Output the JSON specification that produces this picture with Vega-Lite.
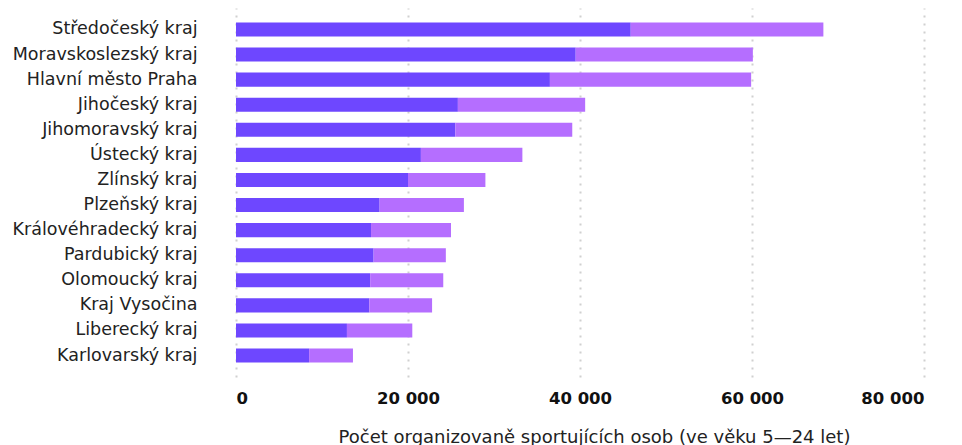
{
  "$schema": "https://vega.github.io/schema/vega-lite/v6.json",
  "width": 688,
  "height": 369,
  "autosize": "none",
  "padding": {"left": 236, "top": 8, "right": 38, "bottom": 68},
  "config": {
    "view": {"stroke": null},
    "font": "DejaVu Sans"
  },
  "data": {
    "values": [
      {"kraj": "Středočeský kraj", "skupina": "A", "poradi": 1, "osoby": 45900},
      {"kraj": "Středočeský kraj", "skupina": "B", "poradi": 2, "osoby": 22400},
      {"kraj": "Moravskoslezský kraj", "skupina": "A", "poradi": 1, "osoby": 39500},
      {"kraj": "Moravskoslezský kraj", "skupina": "B", "poradi": 2, "osoby": 20600},
      {"kraj": "Hlavní město Praha", "skupina": "A", "poradi": 1, "osoby": 36500},
      {"kraj": "Hlavní město Praha", "skupina": "B", "poradi": 2, "osoby": 23400},
      {"kraj": "Jihočeský kraj", "skupina": "A", "poradi": 1, "osoby": 25800},
      {"kraj": "Jihočeský kraj", "skupina": "B", "poradi": 2, "osoby": 14800},
      {"kraj": "Jihomoravský kraj", "skupina": "A", "poradi": 1, "osoby": 25500},
      {"kraj": "Jihomoravský kraj", "skupina": "B", "poradi": 2, "osoby": 13600},
      {"kraj": "Ústecký kraj", "skupina": "A", "poradi": 1, "osoby": 21500},
      {"kraj": "Ústecký kraj", "skupina": "B", "poradi": 2, "osoby": 11800},
      {"kraj": "Zlínský kraj", "skupina": "A", "poradi": 1, "osoby": 20000},
      {"kraj": "Zlínský kraj", "skupina": "B", "poradi": 2, "osoby": 9000},
      {"kraj": "Plzeňský kraj", "skupina": "A", "poradi": 1, "osoby": 16700},
      {"kraj": "Plzeňský kraj", "skupina": "B", "poradi": 2, "osoby": 9800},
      {"kraj": "Královéhradecký kraj", "skupina": "A", "poradi": 1, "osoby": 15700},
      {"kraj": "Královéhradecký kraj", "skupina": "B", "poradi": 2, "osoby": 9300},
      {"kraj": "Pardubický kraj", "skupina": "A", "poradi": 1, "osoby": 16000},
      {"kraj": "Pardubický kraj", "skupina": "B", "poradi": 2, "osoby": 8400},
      {"kraj": "Olomoucký kraj", "skupina": "A", "poradi": 1, "osoby": 15600},
      {"kraj": "Olomoucký kraj", "skupina": "B", "poradi": 2, "osoby": 8500},
      {"kraj": "Kraj Vysočina", "skupina": "A", "poradi": 1, "osoby": 15500},
      {"kraj": "Kraj Vysočina", "skupina": "B", "poradi": 2, "osoby": 7300},
      {"kraj": "Liberecký kraj", "skupina": "A", "poradi": 1, "osoby": 12900},
      {"kraj": "Liberecký kraj", "skupina": "B", "poradi": 2, "osoby": 7600},
      {"kraj": "Karlovarský kraj", "skupina": "A", "poradi": 1, "osoby": 8500},
      {"kraj": "Karlovarský kraj", "skupina": "B", "poradi": 2, "osoby": 5100}
    ]
  },
  "mark": {"type": "bar"},
  "encoding": {
    "y": {
      "field": "kraj",
      "type": "nominal",
      "sort": ["Středočeský kraj", "Moravskoslezský kraj", "Hlavní město Praha", "Jihočeský kraj", "Jihomoravský kraj", "Ústecký kraj", "Zlínský kraj", "Plzeňský kraj", "Královéhradecký kraj", "Pardubický kraj", "Olomoucký kraj", "Kraj Vysočina", "Liberecký kraj", "Karlovarský kraj"],
      "scale": {"paddingInner": 0.44, "paddingOuter": 0.575},
      "axis": {
        "title": null,
        "ticks": false,
        "domain": false,
        "labelPadding": 39,
        "labelLimit": 300,
        "labelFontSize": 17.5,
        "labelColor": "#222222",
        "labelFont": "DejaVu Sans"
      }
    },
    "x": {
      "field": "osoby",
      "type": "quantitative",
      "stack": "zero",
      "scale": {"domain": [0, 80000], "nice": false},
      "axis": {
        "values": [0, 20000, 40000, 60000, 80000],
        "labelExpr": "replace(format(datum.value, ','), ',', ' ')",
        "title": "Počet organizovaně sportujících osob (ve věku 5—24 let)",
        "titleFontSize": 18,
        "titleFontWeight": "normal",
        "titleColor": "#222222",
        "titlePadding": 22,
        "titleX": 358,
        "titleAlign": "center",
        "titleFont": "DejaVu Sans",
        "labelFontSize": 16.5,
        "labelFontWeight": "bold",
        "labelColor": "#111111",
        "labelPadding": 13,
        "labelFont": "DejaVu Sans",
        "ticks": false,
        "domain": false,
        "grid": true,
        "gridColor": "#d0d0d0",
        "gridWidth": 2,
        "gridDash": [2, 6]
      }
    },
    "color": {
      "field": "skupina",
      "type": "nominal",
      "scale": {"domain": ["A", "B"], "range": ["#6e47ff", "#b56eff"]},
      "legend": null
    },
    "order": {"field": "poradi", "type": "quantitative"}
  }
}
